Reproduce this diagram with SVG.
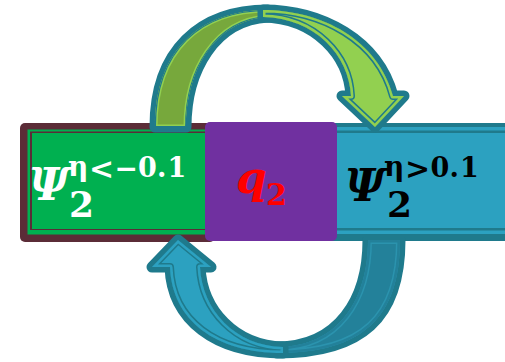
<svg xmlns="http://www.w3.org/2000/svg" xmlns:xlink="http://www.w3.org/1999/xlink" width="505" height="362" viewBox="0 0 505 362">
<style>
.bd{fill:#1F7A8C;stroke:#1F7A8C;stroke-width:11;stroke-linejoin:round}
.ln{fill:none;stroke-linejoin:round}
.math{font-family:"DejaVu Serif","Liberation Serif",serif;font-weight:bold}
.it{font-style:italic}
</style>
<defs>
<path id="pTL" d="M155,127 C155,50 200,10 268,10 L268,17 C215,20 186,70 186,127 Z"/>
<path id="pTR" d="M263,10 C322,10 378,40 393,96 L404,96 L375,127 L342,96 L351,96 C349,55 315,18 263,17 Z"/>
<path id="pBR" d="M400,240 C400,318 362,353 277,353 L277,347 C338,347 368,300 368,240 Z"/>
<path id="pBL" d="M283,353 C215,353 172,320 170,267 L152,267 L178,240 L211,267 L200,267 C202,310 235,346 283,347 Z"/>
<clipPath id="cTL"><use xlink:href="#pTL"/></clipPath>
<clipPath id="cTR"><use xlink:href="#pTR"/></clipPath>
<clipPath id="cBR"><use xlink:href="#pBR"/></clipPath>
<clipPath id="cBL"><use xlink:href="#pBL"/></clipPath>
</defs>

<g id="node-left">
<rect x="20" y="123" width="195" height="119" rx="5" fill="#5B2C37"/>
<rect x="27.5" y="129.5" width="190" height="105" fill="#00B050"/>
<rect x="30" y="131.5" width="190" height="98.5" fill="#5B2C37"/>
<rect x="32" y="133" width="190" height="96" fill="#00B050"/>
<text class="math" fill="#FFFFFF">
<tspan class="it" x="29" y="200" font-size="44">Ψ</tspan>
<tspan x="68" y="176" font-size="28">η</tspan>
<tspan x="89" y="179" font-size="30">&lt;</tspan>
<tspan x="114.5" y="178" font-size="28">−</tspan>
<tspan x="138" y="177" font-size="27">0</tspan>
<tspan x="157" y="177" font-size="27">.</tspan>
<tspan x="167.5" y="177" font-size="27">1</tspan>
<tspan x="69" y="217" font-size="36">2</tspan>
</text>
</g>

<g id="node-right">
<rect x="325" y="123" width="190" height="118" fill="#1F7A8C"/>
<rect x="325" y="127" width="190" height="107" fill="#2CA1C0"/>
<rect x="325" y="130.5" width="190" height="2.5" fill="#1F7A8C"/>
<rect x="325" y="228" width="190" height="2.5" fill="#1F7A8C"/>
<text class="math" fill="#000000">
<tspan class="it" x="345" y="201" font-size="44">Ψ</tspan>
<tspan x="384" y="176" font-size="28">η</tspan>
<tspan x="405" y="179" font-size="30">&gt;</tspan>
<tspan x="430.5" y="177" font-size="27">0</tspan>
<tspan x="449.5" y="177" font-size="27">.</tspan>
<tspan x="460" y="177" font-size="27">1</tspan>
<tspan x="387" y="217" font-size="36">2</tspan>
</text>
</g>

<g id="node-q2">
<rect x="205" y="122" width="132" height="119" rx="5" fill="#7030A0"/>
<text class="math" fill="#FF0000">
<tspan class="it" x="236" y="193" font-size="44">q</tspan>
<tspan x="266" y="205" font-size="30">2</tspan>
</text>
</g>

<g id="connectors">
<g id="arrow-top">
<use xlink:href="#pTL" class="bd"/>
<use xlink:href="#pTL" fill="#77A83C"/>
<g clip-path="url(#cTL)">
<use xlink:href="#pTL" class="ln" stroke="#92D050" stroke-width="5"/>
<use xlink:href="#pTL" class="ln" stroke="#1F7A8C" stroke-width="2"/>
</g>
<use xlink:href="#pTR" class="bd"/>
<use xlink:href="#pTR" fill="#92D050"/>
<g clip-path="url(#cTR)">
<use xlink:href="#pTR" class="ln" stroke="#1F7A8C" stroke-width="8"/>
<use xlink:href="#pTR" class="ln" stroke="#92D050" stroke-width="5"/>
</g>
</g>
<g id="arrow-bottom">
<use xlink:href="#pBR" class="bd"/>
<use xlink:href="#pBR" fill="#23819A"/>
<g clip-path="url(#cBR)">
<use xlink:href="#pBR" class="ln" stroke="#2B93AE" stroke-width="8"/>
<use xlink:href="#pBR" class="ln" stroke="#23819A" stroke-width="5"/>
</g>
<use xlink:href="#pBL" class="bd"/>
<use xlink:href="#pBL" fill="#2CA1C0"/>
<g clip-path="url(#cBL)">
<use xlink:href="#pBL" class="ln" stroke="#1F7A8C" stroke-width="8"/>
<use xlink:href="#pBL" class="ln" stroke="#2CA1C0" stroke-width="5"/>
</g>
</g>
</g>
</svg>
